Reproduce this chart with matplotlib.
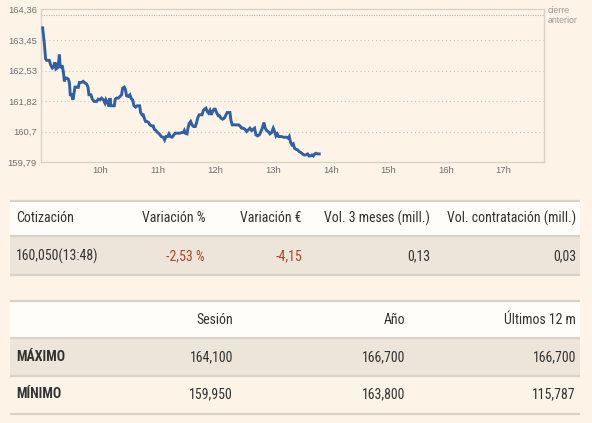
import matplotlib
matplotlib.use("Agg")
import matplotlib.pyplot as plt
from matplotlib.patches import Rectangle
from matplotlib import font_manager as fm

# ---------------- data ----------------
minutes = [0, 1.7, 3.1, 4.2, 6.9, 8.3, 10.1, 11.8, 12.8, 13.9, 15.3, 16.7, 17.4, 18.4, 19.4, 20.5,
           21.5, 22.6, 23.6, 25.0, 26.7, 27.8, 28.8, 30.2, 31.6, 32.6, 33.7, 35.4, 37.1, 38.2, 40.6,
           42.3, 44.1, 45.8, 47.2, 48.2, 50.3, 51.7, 53.8, 56.2, 57.9, 59.7, 61.4, 63.2, 64.9, 65.9,
           67.7, 69.1, 70.1, 71.1, 72.9, 74.6, 75.6, 77.0, 78.8, 80.5, 82.2, 83.3, 85.0, 86.1, 87.4,
           89.2, 90.9, 92.3, 93.7, 95.1, 96.8, 98.5, 101.0, 102.0, 103.4, 104.8, 105.8, 107.2, 108.6,
           110.3, 111.7, 113.5, 115.2, 116.2, 118.0, 119.7, 121.5, 123.5, 125.6, 127.0, 128.4, 130.1,
           131.5, 132.9, 134.6, 136.0, 137.8, 139.5, 141.2, 143.0, 144.7, 146.4, 147.5, 148.5, 150.3,
           151.3, 152.7, 154.1, 155.5, 157.2, 158.9, 160.3, 161.7, 163.1, 164.5, 165.9, 167.3, 168.6,
           170.0, 171.4, 172.8, 174.2, 175.6, 177.0, 178.4, 179.7, 181.1, 182.9, 184.3, 185.6, 187.4,
           189.1, 190.9, 192.2, 193.6, 195.0, 196.1, 197.4, 199.5, 202.0, 204.0, 205.4, 207.2, 208.9,
           210.6, 212.4, 214.1, 215.8, 217.6, 219.3, 220.7, 222.1, 223.8, 225.6, 227.3, 228.7, 230.4,
           231.8, 233.2, 234.9, 236.7, 238.4, 240.1, 241.5, 242.9, 244.3, 245.7, 247.1, 248.8, 250.5,
           252.3, 254.0, 255.7, 256.8, 258.2, 259.6, 260.9, 262.3, 263.7, 265.5, 267.2, 268.9, 270.7,
           272.0, 274.1, 275.9, 277.3, 279.0, 280.4, 281.8, 283.2, 284.5, 286.3, 288.0]
prices = [163.81, 163.36, 162.88, 162.84, 162.84, 162.71, 162.61, 162.66, 162.78, 162.58, 162.61,
          162.81, 163.01, 162.61, 162.66, 162.66, 162.51, 162.21, 162.31, 162.31, 162.28, 162.18,
          161.81, 161.81, 161.66, 161.84, 162.04, 162.04, 162.03, 162.18, 162.18, 162.21, 162.16,
          162.13, 162.04, 161.81, 161.81, 161.68, 161.61, 161.61, 161.68, 161.66, 161.71, 161.66,
          161.56, 161.66, 161.56, 161.46, 161.71, 161.48, 161.48, 161.48, 161.68, 161.71, 161.71,
          161.76, 161.81, 162.01, 162.04, 161.98, 161.78, 161.76, 161.81, 161.69, 161.66, 161.48,
          161.44, 161.48, 161.48, 161.28, 161.21, 161.21, 161.11, 161.01, 161.01, 160.98, 160.91,
          160.88, 160.88, 160.78, 160.74, 160.68, 160.64, 160.56, 160.54, 160.46, 160.56, 160.56,
          160.64, 160.56, 160.54, 160.58, 160.66, 160.66, 160.66, 160.66, 160.68, 160.68, 160.74,
          160.66, 160.64, 160.81, 160.96, 161.01, 160.91, 160.86, 160.86, 160.98, 161.14, 161.21,
          161.21, 161.21, 161.34, 161.38, 161.41, 161.31, 161.26, 161.34, 161.21, 161.31, 161.38,
          161.38, 161.28, 161.18, 161.18, 161.11, 161.08, 161.11, 161.21, 161.28, 161.28, 161.28,
          161.04, 160.91, 160.91, 160.91, 160.91, 160.88, 160.81, 160.81, 160.78, 160.71, 160.76,
          160.81, 160.74, 160.78, 160.81, 160.61, 160.58, 160.61, 160.71, 160.81, 160.98, 160.81,
          160.74, 160.71, 160.64, 160.68, 160.81, 160.71, 160.58, 160.64, 160.56, 160.56, 160.56,
          160.54, 160.54, 160.54, 160.51, 160.56, 160.38, 160.31, 160.34, 160.21, 160.18, 160.16,
          160.11, 160.08, 160.04, 160.01, 160.01, 160.04, 159.98, 159.98, 160.01, 159.98, 160.04,
          160.06, 160.04, 160.04]
prev_close = 164.20
y_min, y_max = 159.79, 164.36
y_tick_labels = ["159,79", "160,7", "161,82", "162,53", "163,45", "164,36"]
x_tick_minutes = [60, 120, 180, 240, 300, 360, 420, 480]
x_tick_labels = ["10h", "11h", "12h", "13h", "14h", "15h", "16h", "17h"]

t1_headers = ["Cotización", "Variación %", "Variación €", "Vol. 3 meses (mill.)", "Vol. contratación (mill.)"]
t1_values = ["160,050(13:48)", "-2,53 %", "-4,15", "0,13", "0,03"]
t2_headers = ["", "Sesión", "Año", "Últimos 12 m"]
t2_rows = [["MÁXIMO", "164,100", "166,700", "166,700"],
           ["MÍNIMO", "159,950", "163,800", "115,787"]]

# ---------------- fonts ----------------
def pick_fonts():
    reg = bold = None
    size = 8.8
    # Roboto Condensed?
    for f in fm.fontManager.ttflist:
        if f.name == "Roboto Condensed":
            if f.weight in (700, "bold") and bold is None:
                bold = f.fname
            elif f.weight in (400, "normal", "regular") and f.style == "normal" and reg is None:
                reg = f.fname
    if reg:
        return reg, bold or reg, 10.0
    for f in fm.fontManager.ttflist:
        low = f.fname.lower()
        if "dejavusanscondensed" in low.replace("-", "").replace("_", ""):
            if "bold" in low and "oblique" not in low and bold is None:
                bold = f.fname
            elif "bold" not in low and "oblique" not in low and reg is None:
                reg = f.fname
    if reg:
        return reg, bold or reg, 8.9
    return None, None, size

REG, BOLD, TSIZE = pick_fonts()

def tprops(bold=False):
    if REG is None:
        return dict(fontproperties=fm.FontProperties(family=["Roboto", "DejaVu Sans"],
                                                     weight="bold" if bold else "normal",
                                                     size=TSIZE))
    return dict(fontproperties=fm.FontProperties(fname=BOLD if bold else REG, size=TSIZE))

# ---------------- style ----------------
BG = "#fdf3e7"
WHITE = "#fffdf9"
BEIGE = "#ede5da"
SEP = "#d9d2c9"
LINE = "#2f5fa6"
GRAY = "#707070"
TXT = "#333333"
RED = "#b0452c"

W, H = 592, 423
fig = plt.figure(figsize=(W / 100, H / 100), dpi=100, facecolor=BG)

tax = fig.add_axes([0, 0, 1, 1])
tax.set_xlim(0, W)
tax.set_ylim(H, 0)
tax.axis("off")
tax.patch.set_alpha(0)

# table 1
L, R = 10, 580
tax.add_patch(Rectangle((L, 201), R - L, 35, facecolor=WHITE, edgecolor="none"))
tax.add_patch(Rectangle((L, 236), R - L, 39, facecolor=BEIGE, edgecolor="none"))
for yy in (201, 236, 275):
    tax.plot([L, R], [yy, yy], color=SEP, lw=1.6, solid_capstyle="butt")
t1_x = [16, 205, 302, 430, 576]
t1_ha = ["left", "right", "right", "right", "right"]
for i, (h, v) in enumerate(zip(t1_headers, t1_values)):
    tax.text(t1_x[i], 218, h, ha=t1_ha[i], va="center", color=TXT, **tprops())
    col = RED if v.startswith("-") else TXT
    tax.text(t1_x[i], 256, v, ha=t1_ha[i], va="center", color=col, **tprops())

# table 2
tax.add_patch(Rectangle((L, 301), R - L, 37, facecolor=WHITE, edgecolor="none"))
tax.add_patch(Rectangle((L, 338), R - L, 38, facecolor=BEIGE, edgecolor="none"))
for yy in (301, 338, 376, 414):
    tax.plot([L, R], [yy, yy], color=SEP, lw=1.6, solid_capstyle="butt")
t2_x = [16, 233, 405, 576]
t2_ha = ["left", "right", "right", "right"]
for i, h in enumerate(t2_headers):
    tax.text(t2_x[i], 320, h, ha=t2_ha[i], va="center", color=TXT, **tprops())
for r, row in enumerate(t2_rows):
    yy = 357 + r * 37.5
    for i, v in enumerate(row):
        tax.text(t2_x[i], yy, v, ha=t2_ha[i], va="center", color=TXT, **tprops(bold=(i == 0)))

# ---------------- chart ----------------
ax = fig.add_axes([41 / W, 1 - 162.3 / H, (544 - 41) / W, (162.3 - 9.5) / H])
ax.set_facecolor(BG)
ax.plot(minutes, prices, color=LINE, lw=2.1, solid_joinstyle="miter", zorder=3)
ax.set_xlim(-1.7, 522)
ax.set_ylim(y_min, y_max)
step = (y_max - y_min) / 5
yt = [y_min + i * step for i in range(6)]
ax.set_yticks(yt)
ax.set_yticklabels(y_tick_labels, family="Liberation Sans", fontsize=6.8, color=GRAY)
ax.set_xticks(x_tick_minutes)
ax.set_xticklabels(x_tick_labels, family="Liberation Sans", fontsize=6.8, color=GRAY)
ax.tick_params(length=0, pad=3)
for y in yt[1:-1]:
    ax.axhline(y, color="#c9c2b8", lw=0.8, ls=(0, (1, 2.5)), zorder=1)
ax.axhline(prev_close, color="#bdb6ac", lw=0.8, ls=(0, (1, 1.2)), zorder=1)
for s in ax.spines.values():
    s.set_color("#dcd3c8")
    s.set_linewidth(1.0)
fig.text(548 / W, 1 - 15.5 / H, "cierre\nanterior", ha="left", va="center",
         family="Liberation Sans", fontsize=6.3, color="#9a9a9a", linespacing=1.15)

fig.savefig("out.png", dpi=100, facecolor=BG)
